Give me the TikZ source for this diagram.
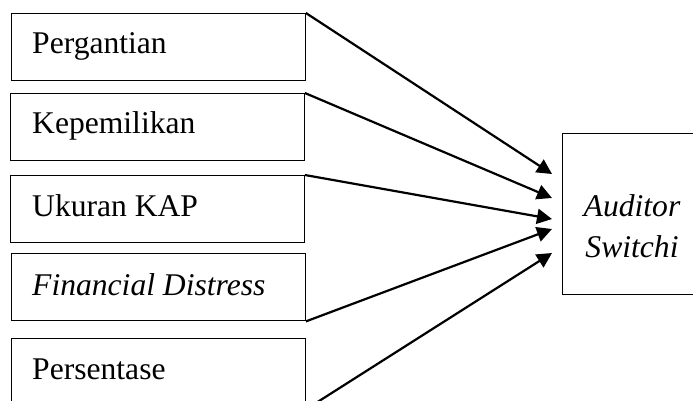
\documentclass[tikz,border=0pt]{standalone}
\usepackage{fontspec}
\setmainfont{Liberation Serif}
\usetikzlibrary{arrows.meta}
\begin{document}
\begin{tikzpicture}[x=1pt,y=-1pt,
  box/.style={draw,line width=1.4pt,inner sep=0pt},
  lbl/.style={anchor=base west,inner sep=0pt,font=\fontsize{31.6}{41}\selectfont},
  arr/.style={line width=2.2pt,-{Triangle[length=15pt,width=15pt]}}]
\useasboundingbox (0,0) rectangle (693,400);
\begin{scope}
\clip (0,0) rectangle (693,400);
% left boxes
\node[box,minimum width=294pt,minimum height=67pt,anchor=north west] (b1) at (10.5,13) {};
\node[box,minimum width=294pt,minimum height=67pt,anchor=north west] (b2) at (9.5,93) {};
\node[box,minimum width=294pt,minimum height=67pt,anchor=north west] (b3) at (9.5,175) {};
\node[box,minimum width=294pt,minimum height=67pt,anchor=north west] (b4) at (10.5,253) {};
\node[box,minimum width=294pt,minimum height=70pt,anchor=north west] (b5) at (10.5,338) {};
% labels
\node[lbl] (t1) at (32,53) {Pergantian};
\node[lbl] (t2) at (32,133) {Kepemilikan};
\node[lbl] (t3) at (32,216.5) {Ukuran KAP};
\node[lbl] (t4) at (32,295) {\itshape Financial Distress};
\node[lbl] (t5) at (32,379) {Persentase};
% right box
\node[box,minimum width=140pt,minimum height=161pt,anchor=north west] (as) at (562,133) {};
\node[anchor=base,inner sep=0pt,align=center,font=\fontsize{31.6}{41}\selectfont\itshape] (ta) at (632,257) {Auditor\\Switchi};
% arrow targets
\coordinate (p1) at (552,174);
\coordinate (p2) at (552,198);
\coordinate (p3) at (552,219);
\coordinate (p4) at (552,229);
\coordinate (p5) at (552,253);
\draw[arr] (b1.north east) -- (p1);
\draw[arr] (b2.north east) -- (p2);
\draw[arr] (b3.north east) -- (p3);
\draw[arr] (b4.south east) -- (p4);
\draw[arr] (b5.south east) -- (p5);
\end{scope}
\end{tikzpicture}
\end{document}
